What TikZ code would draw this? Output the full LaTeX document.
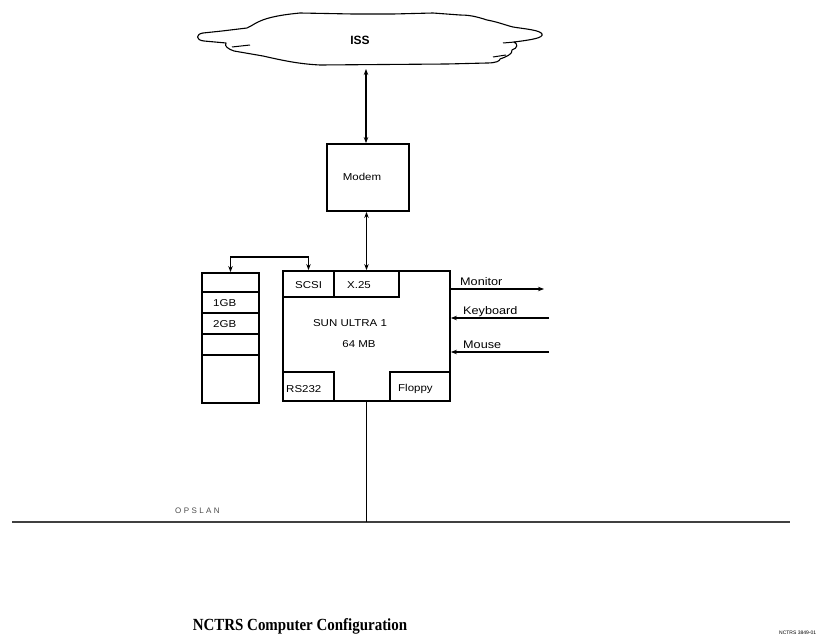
\documentclass[tikz,border=0pt]{standalone}
\usepackage{fontspec}
\setmainfont{Liberation Sans}
\newfontfamily\lblfont[FakeStretch=1.15]{Liberation Sans}
\newfontfamily\titlefont[FakeStretch=0.88]{Liberation Serif}
\usetikzlibrary{arrows.meta,calc}
\begin{document}
\begin{tikzpicture}[x=1pt,y=-1pt,
  boxs/.style={draw, line width=1.8pt, inner sep=0pt, minimum width=#1},
  boxs/.default=10pt,
  txt/.style={inner sep=0pt, font=\lblfont\fontsize{10}{12}\selectfont},
  side/.style={inner sep=0pt, anchor=base west, font=\lblfont\fontsize{11}{13}\selectfont},
  conn/.style={line width=1.4pt, {Stealth[length=6pt,width=4.5pt]}-{Stealth[length=6pt,width=4.5pt]}},
  oneway/.style={line width=1.4pt, -{Stealth[length=6pt,width=4.5pt]}}
]
\useasboundingbox (0,0) rectangle (833,637);
\fill[white] (0,0) rectangle (833,637);

% cloud
\draw[line width=1.1pt, fill=white, line join=round]
  (203,33) .. controls (196,34) and (195,40) .. (204,41)
  -- (226,43) .. controls (224,46) and (228,49) .. (234,51)
  -- (263,56) .. controls (285,61) and (300,64) .. (320,65)
  -- (447,64) -- (487,63) .. controls (496,63) and (500,61) .. (500,59)
  .. controls (506,57) and (513,54) .. (512,50)
  .. controls (518,48) and (518,44) .. (514,42)
  .. controls (530,40) and (544,38) .. (542,34)
  .. controls (540,30) and (525,29) .. (513,27)
  .. controls (505,25) and (498,22) .. (487,20)
  .. controls (475,16) and (468,15) .. (460,15)
  -- (433,13) -- (393,14) -- (353,14) -- (300,13)
  .. controls (290,14) and (270,16) .. (258,22)
  .. controls (252,25) and (250,27) .. (247,28)
  -- (222,31) -- cycle;
\draw[line width=1pt] (232,47) -- (250,45);
\draw[line width=1pt] (493,57) -- (506,55);
\draw[line width=1pt] (503,43) -- (515,42);
\node[inner sep=0pt, font=\bfseries\fontsize{12}{14}\selectfont] (iss) at (360,40) {ISS};
\coordinate (cb) at (366,69);

% modem
\node[boxs=82pt, minimum height=67pt] (modem) at (368,177.5) {};
\node[txt] (modemT) at (362,177) {Modem};

% main computer
\node[boxs=167pt, minimum height=130pt] (sun) at (366.5,336) {};
\node[boxs=51pt, minimum height=26pt] (scsi) at (308.5,284) {};
\node[boxs=65pt, minimum height=26pt] (x25) at (366.5,284) {};
\node[boxs=51pt, minimum height=29pt] (rs) at (308.5,386.5) {};
\node[boxs=60pt, minimum height=29pt] (floppy) at (420,386.5) {};
\node[txt, anchor=west] (scsiT) at (295,285) {SCSI};
\node[txt, anchor=west] (x25T) at (347,285) {X.25};
\node[txt, anchor=west] (rsT) at (286,389) {RS232};
\node[txt, anchor=west] (flT) at (398,389) {Floppy};
\node[txt] (sunT) at (350,323) {SUN ULTRA 1};
\node[txt] (memT) at (359,344) {64 MB};

% disk stack
\node[boxs=57pt, minimum height=130pt] (disk) at (230.5,338) {};
\foreach \yy in {292,313,334,355}
  \draw[line width=1.8pt] (disk.west |- 0,\yy) -- (disk.east |- 0,\yy);
\node[txt, anchor=west] (g1) at (213,303) {1GB};
\node[txt, anchor=west] (g2) at (213,324) {2GB};

% connectors
\draw[conn] (cb) -- (cb |- modem.north);
\draw[conn] (x25.north) -- (x25.north |- modem.south);
\draw[conn, line width=1.1pt] (disk.north) -- (disk.north |- 0,257) -| (scsi.north);

\coordinate (monEnd) at (544,289);
\coordinate (kbStart) at (549,318);
\coordinate (msStart) at (549,352);
\draw[oneway] (monEnd -| sun.east) -- (monEnd);
\draw[oneway] (kbStart) -- (kbStart -| sun.east);
\draw[oneway] (msStart) -- (msStart -| sun.east);
\node[side] (monT) at (460,285) {Monitor};
\node[side] (kbT) at (463,314) {Keyboard};
\node[side] (msT) at (463,348) {Mouse};

% LAN
\coordinate (lanL) at (12,522);
\coordinate (lanR) at (790,522);
\draw[line width=1.5pt, black!75] (lanL) -- (lanR);
\draw[line width=0.9pt] (sun.south) -- (sun.south |- lanL);
\node[inner sep=0pt, anchor=base west, text=black!70,
  font=\addfontfeature{LetterSpace=30}\fontsize{8}{10}\selectfont] (lanT) at (175,513) {OPSLAN};

% title
\node[inner sep=0pt, font=\titlefont\bfseries\fontsize{17}{20}\selectfont] (title) at (300,626) {NCTRS Computer Configuration};
\node[inner sep=0pt, anchor=base west, font=\fontsize{5}{6}\selectfont] (tag) at (779,634) {NCTRS 3849-01};
\end{tikzpicture}
\end{document}
